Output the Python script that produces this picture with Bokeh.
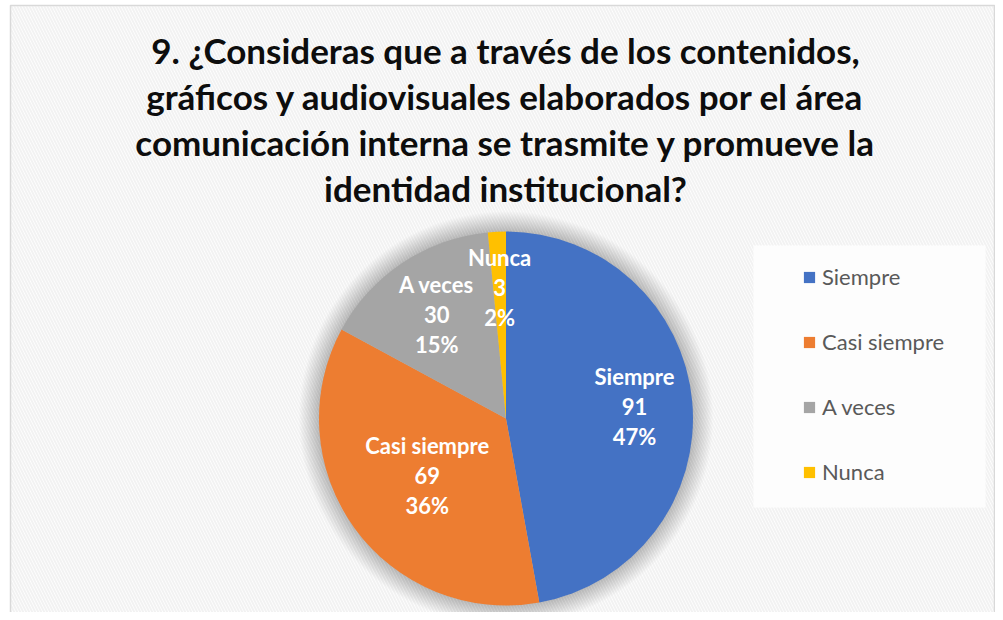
import math
from bokeh.plotting import figure
from bokeh.models import ColumnDataSource, Range1d, Legend, LegendItem
from bokeh.core.properties import value
from bokeh.embed import file_html
from bokeh.resources import INLINE

# ---- data ----
categories = ["Siempre", "Casi siempre", "A veces", "Nunca"]
counts = [91, 69, 30, 3]
percent_labels = ["47%", "36%", "15%", "2%"]
colors = ["#4472C4", "#ED7D31", "#A5A5A5", "#FFC000"]
title_lines = [
    "9. ¿Consideras que a través de los contenidos,",
    "gráficos y audiovisuales elaborados por el área",
    "comunicación interna se trasmite y promueve la",
    "identidad institucional?",
]

# ---- layout ----
W, H = 995, 612
def px(x):
    return x
def py(y):
    return H - y

CX, CY, R = px(505.5), py(418), 187
LABEL_R = [0.69, 0.52, 0.67, 0.70]
FONT = "Lato"

p = figure(width=W, height=H, x_range=Range1d(0, W), y_range=Range1d(0, H),
           x_axis_type=None, y_axis_type=None, output_backend="svg",
           toolbar_location=None, min_border=0)
p.grid.visible = False
p.background_fill_color = "white"
p.border_fill_color = "white"
p.outline_line_color = None

# patterned background
p.quad(left=px(10), right=px(994), bottom=py(H + 5), top=py(5), fill_alpha=0,
       line_color="#d9d9d9", line_width=1.5,
       hatch_pattern="left_diagonal_line", hatch_color="#f2f2f2",
       hatch_scale=6, hatch_weight=2)

# legend box
p.quad(left=px(753), right=px(985), bottom=py(507), top=py(245),
       fill_color="#fdfdfd", line_alpha=0)

# soft shadow around the pie
for k in range(1, 21):
    p.circle(x=CX, y=CY, radius=R + k, radius_units="screen",
             fill_color="black", fill_alpha=0.011, line_alpha=0)

# wedges
total = sum(counts)
starts, ends, lx, ly = [], [], [], []
cum = 0
for i, c in enumerate(counts):
    a0 = math.pi / 2 - 2 * math.pi * cum / total
    a1 = math.pi / 2 - 2 * math.pi * (cum + c) / total
    starts.append(a0)
    ends.append(a1)
    mid = (a0 + a1) / 2
    lx.append(CX + LABEL_R[i] * R * math.cos(mid))
    ly.append(CY + LABEL_R[i] * R * math.sin(mid))
    cum += c

src = ColumnDataSource(dict(cat=categories, start=starts, end=ends, color=colors,
                            cnt=[str(c) for c in counts], pct=percent_labels,
                            lx=lx, ly=ly))
wr = p.wedge(x=CX, y=CY, radius=R, radius_units="screen", start_angle="start",
             end_angle="end", direction="clock", fill_color="color",
             line_color=None, source=src)

for col, off in (("cat", 30), ("cnt", 0), ("pct", -30)):
    p.text(x="lx", y="ly", text=col, source=src, y_offset=-off,
           text_font=value(FONT), text_font_style="bold", text_font_size="22px",
           text_color="white", text_align="center", text_baseline="middle")

# title
centers = [49, 95, 141, 187]
p.text(x=[px(505)] * 4, y=[py(b) for b in centers], text=title_lines,
       text_font=value(FONT), text_font_style="bold", text_font_size="35px",
       text_color="#0d0d0d", text_align="center", text_baseline="middle")

# legend
items = [LegendItem(label=c, renderers=[wr], index=i) for i, c in enumerate(categories)]
legend = Legend(items=items, location=(px(780), py(507)),
                glyph_width=14, glyph_height=14, label_standoff=6,
                label_text_font=FONT, label_text_font_size="22px",
                label_text_color="#595959", label_height=22, spacing=38,
                padding=22, margin=0, background_fill_alpha=0,
                border_line_alpha=0)
p.add_layout(legend, "center")

open("out.html", "w").write(file_html(p, INLINE))
